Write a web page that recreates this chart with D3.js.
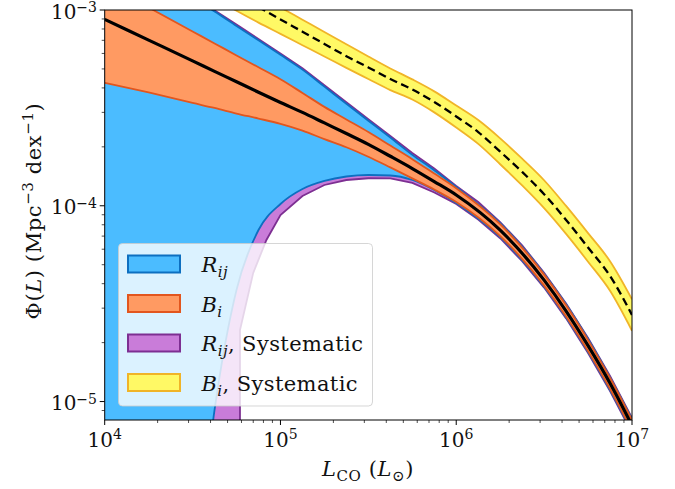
<!DOCTYPE html>
<html><head><meta charset="utf-8">
<script src="https://cdn.jsdelivr.net/npm/d3@7"></script>
<style>body{margin:0;background:#fff} text{font-family:"DejaVu Serif",serif;fill:#111}</style>
</head><body><svg id="c" width="675" height="489"></svg>
<script>
// ---- data (L in L_sun, Phi in Mpc^-3 dex^-1) ----
const L = [1e4,1.778e4,3.162e4,4.217e4,5.623e4,7.499e4,1e5,1.334e5,1.778e5,2.371e5,3.162e5,4.217e5,5.623e5,7.499e5,1e6,1.778e6,3.162e6,4.217e6,5.623e6,7.499e6,1e7];
const phiBest = [8.96e-4,7.02e-4,5.50e-4,4.86e-4,4.30e-4,3.80e-4,3.37e-4,3.00e-4,2.65e-4,2.34e-4,2.06e-4,1.79e-4,1.55e-4,1.33e-4,1.135e-4,7.51e-5,4.17e-5,2.90e-5,1.93e-5,1.24e-5,7.55e-6];
const biHigh = [1.366e-3,1.030e-3,7.77e-4,6.75e-4,5.86e-4,5.10e-4,4.43e-4,3.77e-4,3.20e-4,2.76e-4,2.38e-4,2.03e-4,1.73e-4,1.46e-4,1.23e-4,8.05e-5,4.45e-5,3.10e-5,2.06e-5,1.32e-5,8.05e-6];
const biLow = [4.25e-4,3.79e-4,3.35e-4,3.16e-4,2.96e-4,2.79e-4,2.62e-4,2.42e-4,2.19e-4,1.99e-4,1.78e-4,1.57e-4,1.38e-4,1.21e-4,1.045e-4,7.00e-5,3.91e-5,2.72e-5,1.81e-5,1.16e-5,7.08e-6];
const rijHigh = [2.20e-3,1.593e-3,1.155e-3,9.84e-4,8.29e-4,7.00e-4,5.90e-4,4.96e-4,4.06e-4,3.32e-4,2.72e-4,2.23e-4,1.82e-4,1.52e-4,1.247e-4,8.15e-5,4.50e-5,3.14e-5,2.09e-5,1.33e-5,8.15e-6];
const rijLow = [1e-7,1e-7,9.7e-7,9.06e-6,3.72e-5,7.52e-5,1.021e-4,1.218e-4,1.339e-4,1.411e-4,1.436e-4,1.428e-4,1.354e-4,1.204e-4,1.033e-4,6.91e-5,3.86e-5,2.69e-5,1.79e-5,1.145e-5,7.00e-6];

const LSys = [1e4,1.778e4,3.162e4,5.884e4,5.884e4,6.998e4,8.318e4,1e5,1.334e5,1.778e5,2.371e5,3.162e5,4.217e5,5.623e5,7.499e5,1e6,1.334e6,1.778e6,2.371e6,3.162e6,4.217e6,5.623e6,7.499e6,1e7];
const rijSysHigh = [2.24e-3,1.621e-3,1.176e-3,8.22e-4,8.22e-4,7.41e-4,6.68e-4,6.00e-4,5.04e-4,4.13e-4,3.38e-4,2.77e-4,2.27e-4,1.86e-4,1.55e-4,1.262e-4,1.045e-4,8.25e-5,6.28e-5,4.55e-5,3.17e-5,2.11e-5,1.35e-5,8.25e-6];
const rijSysLow = [1e-7,1e-7,1e-7,1e-7,2.32e-5,4.54e-5,6.69e-5,8.97e-5,1.122e-4,1.277e-4,1.354e-4,1.382e-4,1.379e-4,1.308e-4,1.169e-4,1.021e-4,8.51e-5,6.83e-5,5.21e-5,3.82e-5,2.66e-5,1.77e-5,1.13e-5,6.91e-6];

const LBSys = [4.217e4,5.623e4,7.499e4,1e5,1.334e5,1.778e5,2.371e5,3.162e5,4.217e5,5.623e5,7.499e5,1e6,1.334e6,1.778e6,2.371e6,3.162e6,4.217e6,5.623e6,7.499e6,1e7];
const biSysMid = [1.382e-3,1.196e-3,1.035e-3,8.95e-4,7.75e-4,6.71e-4,5.81e-4,5.09e-4,4.44e-4,3.93e-4,3.39e-4,2.86e-4,2.38e-4,1.89e-4,1.49e-4,1.146e-4,8.47e-5,6.12e-5,4.38e-5,2.77e-5];
const biSysHigh = [1.591e-3,1.377e-3,1.193e-3,1.031e-3,8.92e-4,7.72e-4,6.69e-4,5.79e-4,5.03e-4,4.42e-4,3.84e-4,3.25e-4,2.74e-4,2.21e-4,1.74e-4,1.35e-4,9.98e-5,7.25e-5,5.21e-5,3.33e-5];
const biSysLow = [1.145e-3,9.91e-4,8.62e-4,7.55e-4,6.61e-4,5.79e-4,5.06e-4,4.44e-4,3.90e-4,3.49e-4,3.00e-4,2.51e-4,2.07e-4,1.63e-4,1.27e-4,9.72e-5,7.18e-5,5.18e-5,3.68e-5,2.30e-5];

const xMajor = [1e4,1e5,1e6,1e7];
const yMajor = [1e-5,1e-4,1e-3];
const legendItems = [
  {parts:[{t:"R",it:1},{t:"ij",it:1,sub:1}], fill:"#4bbcff", stroke:"#0d6fc0"},
  {parts:[{t:"B",it:1},{t:"i",it:1,sub:1}], fill:"#ff9a62", stroke:"#e2561e"},
  {parts:[{t:"R",it:1},{t:"ij",it:1,sub:1},{t:", Systematic"}], fill:"#c97cd9", stroke:"#7d2f92"},
  {parts:[{t:"B",it:1},{t:"i",it:1,sub:1},{t:", Systematic"}], fill:"#fff965", stroke:"#f0b428"}
];

// ---- layout ----
const m = {l:104.7, r:632, t:10, b:420};
const x = d3.scaleLog().domain([1e4,1e7]).range([m.l,m.r]);
const y = d3.scaleLog().domain([8.05e-6,1e-3]).range([m.b,m.t]);
const svg = d3.select('#c');
svg.append('defs').append('clipPath').attr('id','clip').append('rect')
  .attr('x',m.l).attr('y',m.t).attr('width',m.r-m.l).attr('height',m.b-m.t);
const g = svg.append('g').attr('clip-path','url(#clip)');

function band(Ls, lo, hi, fill, stroke, curve){
  const pts = Ls.map((l,i)=>({l, lo:lo[i], hi:hi[i]}));
  g.append('path').datum(pts)
    .attr('d', d3.area().x(d=>x(d.l)).y0(d=>y(d.lo)).y1(d=>y(d.hi)).curve(curve))
    .attr('fill', fill);
  ['hi','lo'].forEach(k=>{
    g.append('path').datum(pts)
      .attr('d', d3.line().x(d=>x(d.l)).y(d=>y(d[k])).curve(curve))
      .attr('fill','none').attr('stroke',stroke).attr('stroke-width',1.8);
  });
}
band(LSys, rijSysLow, rijSysHigh, legendItems[2].fill, legendItems[2].stroke, d3.curveLinear);
band(L, rijLow, rijHigh, legendItems[0].fill, legendItems[0].stroke, d3.curveMonotoneX);
band(L, biLow, biHigh, legendItems[1].fill, legendItems[1].stroke, d3.curveMonotoneX);
g.append('path').datum(L.map((l,i)=>[l,phiBest[i]]))
  .attr('d', d3.line().x(d=>x(d[0])).y(d=>y(d[1])).curve(d3.curveMonotoneX))
  .attr('fill','none').attr('stroke','#000').attr('stroke-width',3.2);
band(LBSys, biSysLow, biSysHigh, legendItems[3].fill, legendItems[3].stroke, d3.curveMonotoneX);
g.append('path').datum(LBSys.map((l,i)=>[l,biSysMid[i]]))
  .attr('d', d3.line().x(d=>x(d[0])).y(d=>y(d[1])).curve(d3.curveMonotoneX))
  .attr('fill','none').attr('stroke','#000').attr('stroke-width',2.3).attr('stroke-dasharray','8,4.5');

// ---- text helper ----
function richText(sel, parts, big, small, shift){
  const sh = shift || {sub:5, sup:8};
  parts.forEach((p,i)=>{
    const ts = sel.append('tspan').text(p.t).attr('font-size', (p.sub||p.sup)?small:big);
    if(p.it) ts.attr('font-style','italic');
    const prev = i>0 ? parts[i-1] : null;
    let dy = 0;
    if(prev && prev.sub) dy -= sh.sub; if(prev && prev.sup) dy += sh.sup;
    if(p.sub) dy += sh.sub; if(p.sup) dy -= sh.sup;
    if(dy) ts.attr('dy', dy);
  });
}

// ---- legend ----
const leg = svg.append('g');
leg.append('rect').attr('x',118.5).attr('y',243.5).attr('width',254).attr('height',162.5).attr('rx',4)
  .attr('fill','#fff').attr('fill-opacity',0.8).attr('stroke','#cccccc').attr('stroke-opacity',0.8);
legendItems.forEach((it,i)=>{
  const cy = 264 + i*39.5;
  leg.append('rect').attr('x',128).attr('y',cy-8.5).attr('width',52).attr('height',17)
    .attr('fill',it.fill).attr('stroke',it.stroke).attr('stroke-width',2);
  richText(leg.append('text').attr('x',201.5).attr('y',cy+8).attr('letter-spacing',0.4), it.parts, 21, 15);
});

// ---- axes ----
const ax = svg.append('g');
ax.append('rect').attr('x',m.l).attr('y',m.t).attr('width',m.r-m.l).attr('height',m.b-m.t)
  .attr('fill','none').attr('stroke','#000').attr('stroke-width',1);
const isMajor = v => Math.abs(Math.log10(v) - Math.round(Math.log10(v))) < 1e-9;
x.ticks().forEach(v=>{
  const len = isMajor(v)?5:3;
  ax.append('line').attr('x1',x(v)).attr('x2',x(v)).attr('y1',m.b).attr('y2',m.b+len).attr('stroke','#000').attr('stroke-width',isMajor(v)?1:0.7);
});
y.ticks().forEach(v=>{
  const len = isMajor(v)?5:3;
  ax.append('line').attr('y1',y(v)).attr('y2',y(v)).attr('x1',m.l).attr('x2',m.l-len).attr('stroke','#000').attr('stroke-width',isMajor(v)?1:0.7);
});
xMajor.forEach(v=>{
  const e = Math.round(Math.log10(v));
  richText(ax.append('text').attr('x',x(v)).attr('y',447).attr('text-anchor','middle'),
    [{t:"10"},{t:String(e),sup:1}], 20, 14);
});
yMajor.forEach(v=>{
  const e = Math.round(Math.log10(v));
  richText(ax.append('text').attr('x',97).attr('y',y(v)+8.5).attr('text-anchor','end'),
    [{t:"10"},{t:"\u2212"+String(-e),sup:1}], 20, 14, {sub:5, sup:6.5});
});
richText(ax.append('text').attr('x',368).attr('y',476).attr('text-anchor','middle').attr('letter-spacing',0.6),
  [{t:"L",it:1},{t:"CO",sub:1},{t:" ("},{t:"L",it:1},{t:"\u2299",sub:1},{t:")"}], 21, 15);
richText(ax.append('text').attr('transform','translate(41,211) rotate(-90)').attr('text-anchor','middle').attr('letter-spacing',0.6),
  [{t:"\u03A6("},{t:"L",it:1},{t:") (Mpc"},{t:"\u22123",sup:1},{t:" dex"},{t:"\u22121",sup:1},{t:")"}], 21, 15);
</script></body></html>
